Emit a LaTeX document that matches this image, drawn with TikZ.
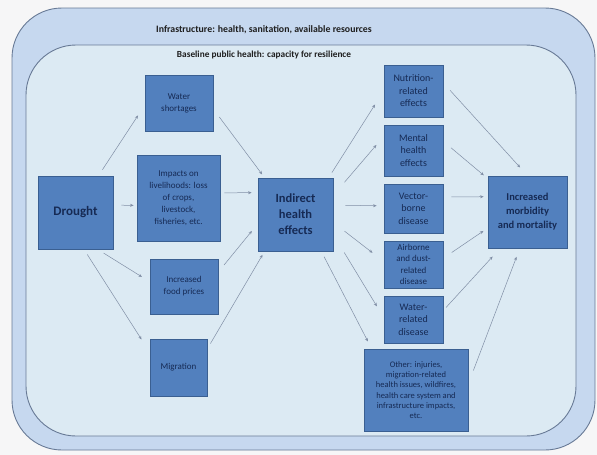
\documentclass[tikz,border=0pt]{standalone}
\usepackage{fontspec}
\setmainfont{Carlito}
\usetikzlibrary{arrows.meta}

\definecolor{bgcol}{RGB}{246,246,247}
\definecolor{outerfill}{RGB}{198,216,239}
\definecolor{innerfill}{RGB}{220,234,243}
\definecolor{bandline}{RGB}{104,122,150}
\definecolor{boxfill}{RGB}{82,128,190}
\definecolor{boxline}{RGB}{58,95,145}
\definecolor{boxtext}{RGB}{22,42,84}
\definecolor{arrowcol}{RGB}{128,142,165}

\tikzset{
  caja/.style={draw=boxline, fill=boxfill, line width=0.8pt, inner sep=0pt, align=center,
    text=boxtext, font=\fontsize{9}{12}\selectfont},
  rcaja/.style={caja, minimum width=59pt, font=\fontsize{10}{12.5}\selectfont},
  titulo/.style={font=\bfseries\fontsize{9.8}{11}\selectfont, text={rgb,255:red,30;green,30;blue,30}},
  flecha/.style 2 args={draw=arrowcol, line width=0.5pt, -{Stealth[length=3.5pt,width=3pt]},
    shorten <=#1pt, shorten >=#2pt}
}

\begin{document}
\begin{tikzpicture}[x=1pt,y=-1pt]
    % fondo
    \fill[bgcol] (0,0) rectangle (597,455);

    % bandas
    \draw[draw=bandline, fill=outerfill, line width=0.9pt, rounded corners=50pt] (12,8) rectangle (595,450);
    \draw[draw=bandline, fill=innerfill, line width=0.9pt, rounded corners=50pt] (26,45) rectangle (576,436);
    \node[titulo] (infra) at (264,30) {Infrastructure: health, sanitation, available resources};
    \node[titulo, font=\bfseries\fontsize{9.3}{11}\selectfont] (baseline) at (264,55) {Baseline public health: capacity for resilience};

    % causas
    \node[caja, minimum width=75pt, minimum height=73pt, font=\bfseries\fontsize{13}{16}\selectfont] (drought) at (75.5,212.5) {Drought};
    \node[caja, minimum width=68pt, minimum height=56pt] (water) at (179,103) {Water\\shortages};
    \node[caja, minimum width=83pt, minimum height=86pt] (impacts) at (178.5,198) {Impacts on\\livelihoods: loss\\of crops,\\livestock,\\fisheries, etc.};
    \node[caja, minimum width=68pt, minimum height=55pt] (food) at (184,286.5) {Increased\\food prices};
    \node[caja, minimum width=57pt, minimum height=57pt] (migr) at (178.5,367.5) {Migration};

    % centro
    \node[caja, minimum width=75pt, minimum height=73pt, font=\bfseries\fontsize{12.5}{16}\selectfont] (indirect) at (295.5,214.5) {Indirect\\health\\effects};

    % efectos
    \node[rcaja, minimum height=52pt] (nutr) at (413.5,91) {Nutrition-\\related\\effects};
    \node[rcaja, minimum height=51pt] (mental) at (413.5,150.5) {Mental\\health\\effects};
    \node[rcaja, minimum height=49pt] (vector) at (413.5,208.5) {Vector-\\borne\\disease};
    \node[rcaja, minimum height=47pt, font=\fontsize{9}{11.5}\selectfont] (air) at (413.5,264.5) {Airborne\\and dust-\\related\\disease};
    \node[rcaja, minimum height=47pt] (waterd) at (413.5,319.5) {Water-\\related\\disease};
    \node[caja, minimum width=104pt, minimum height=82pt, font=\fontsize{8.5}{10.3}\selectfont] (other) at (416,390) {Other: injuries,\\migration-related\\health issues, wildfires,\\health care system and\\infrastructure impacts,\\etc.};

    % resultado
    \node[caja, minimum width=79pt, minimum height=72pt, font=\bfseries\fontsize{10.5}{14}\selectfont] (incr) at (527.5,212) {Increased\\morbidity\\and mortality};

    % flechas izquierda
    \draw[flecha={7}{12}] (drought.58) -- (water.184);
    \draw[flecha={8}{3}] (drought.11) -- (impacts.190);
    \draw[flecha={7}{9}] (drought.301) -- (food.172);
    \draw[flecha={6}{15}] (drought.283) -- (migr.152);
    \draw[flecha={10}{4}] (water.350) -- (indirect.130);
    \draw[flecha={4}{6}] (impacts.7) -- (indirect.150);
    \draw[flecha={9}{9}] (food.23) -- (indirect.194);
    \draw[flecha={6}{4}] (migr.33) -- (indirect.230);

    % flechas centro
    \draw[flecha={6}{16}] (indirect.48) -- (nutr.180);
    \draw[flecha={17}{11}] (indirect.27) -- (mental.155);
    \draw[flecha={12}{7}] (indirect.14) -- (vector.175);
    \draw[flecha={14}{14}] (indirect.348) -- (air.174);
    \draw[flecha={21}{13}] (indirect.332) -- (waterd.176);
    \draw[flecha={6}{8}] (indirect.305) -- (other.137);

    % flechas derecha
    \draw[flecha={10}{11}] (nutr.15) -- (incr.90);
    \draw[flecha={10}{5}] (mental.17) -- (incr.140);
    \draw[flecha={8}{4}] (vector.21) -- (incr.159);
    \draw[flecha={10}{5}] (air.12) -- (incr.202);
    \draw[flecha={4}{11}] (waterd.17) -- (incr.233);
    \draw[flecha={14}{9}] (other.7) -- (incr.258);
\end{tikzpicture}
\end{document}
